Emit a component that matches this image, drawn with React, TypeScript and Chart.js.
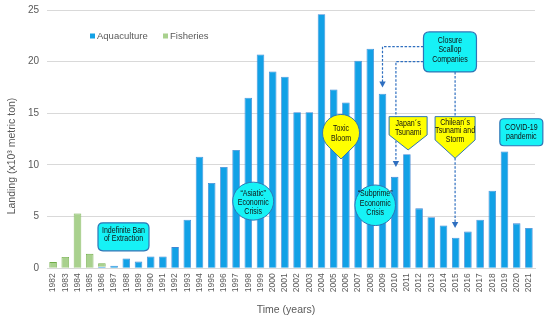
import React, { useEffect, useRef } from "react";
import { Chart, registerables } from "chart.js";

Chart.register(...registerables);

const years = [
  "1982", "1983", "1984", "1985", "1986", "1987", "1988", "1989", "1990", "1991",
  "1992", "1993", "1994", "1995", "1996", "1997", "1998", "1999", "2000", "2001",
  "2002", "2003", "2004", "2005", "2006", "2007", "2008", "2009", "2010", "2011",
  "2012", "2013", "2014", "2015", "2016", "2017", "2018", "2019", "2020", "2021",
];

const aquaculture = [
  0, 0, 0, 0, 0.15, 0.25, 0.95, 0.65, 1.15, 1.15,
  2.05, 4.7, 10.8, 8.25, 9.8, 11.45, 16.5, 20.7, 19.05, 18.55,
  15.1, 15.1, 24.6, 17.3, 16.05, 20.1, 21.25, 16.9, 8.85, 11.05,
  5.8, 4.95, 4.15, 2.95, 3.55, 4.7, 7.5, 11.3, 4.35, 3.9,
];

const fisheries = [
  0.6, 1.1, 5.3, 1.4, 0.35, 0, 0, 0, 0, 0,
  0, 0, 0, 0, 0, 0, 0, 0, 0, 0,
  0, 0, 0, 0, 0, 0, 0, 0, 0, 0,
  0, 0, 0, 0, 0, 0, 0, 0, 0, 0,
];

const yTicks = [0, 5, 10, 15, 20, 25];

const AQUA_FILL = "#12a1e6";
const AQUA_BORDER = "#3f86d4";
const FISH_FILL = "#a9d18e";
const FISH_BORDER = "#70ad47";
const CYAN = "#16f2f6";
const YELLOW = "#ffff00";
const SHAPE_BORDER = "#2e75b6";
const DASH = "#2f6fc0";
const ANN_FONT = '"Liberation Sans", Arial, sans-serif';
const AX_FONT = '"Liberation Sans", Arial, sans-serif';

function drawLines(ctx: CanvasRenderingContext2D, lines: string[], cx: number, cy: number, lh: number) {
  ctx.save();
  ctx.fillStyle = "#111111";
  ctx.font = `8.6px ${ANN_FONT}`;
  ctx.textAlign = "center";
  ctx.textBaseline = "middle";
  const sx = 0.82;
  ctx.translate(cx, cy);
  ctx.scale(sx, 1);
  const start = -((lines.length - 1) * lh) / 2;
  lines.forEach((l, k) => ctx.fillText(l, 0, start + k * lh));
  ctx.restore();
}

function roundRect(ctx: CanvasRenderingContext2D, cx: number, cy: number, w: number, h: number, r: number, fill: string) {
  const x = cx - w / 2, y = cy - h / 2;
  ctx.beginPath();
  ctx.moveTo(x + r, y);
  ctx.lineTo(x + w - r, y);
  ctx.quadraticCurveTo(x + w, y, x + w, y + r);
  ctx.lineTo(x + w, y + h - r);
  ctx.quadraticCurveTo(x + w, y + h, x + w - r, y + h);
  ctx.lineTo(x + r, y + h);
  ctx.quadraticCurveTo(x, y + h, x, y + h - r);
  ctx.lineTo(x, y + r);
  ctx.quadraticCurveTo(x, y, x + r, y);
  ctx.closePath();
  ctx.fillStyle = fill;
  ctx.fill();
  ctx.lineWidth = 1.2;
  ctx.strokeStyle = SHAPE_BORDER;
  ctx.stroke();
}

function arrowDown(ctx: CanvasRenderingContext2D, x: number, tipY: number) {
  ctx.beginPath();
  ctx.moveTo(x, tipY);
  ctx.lineTo(x - 3.2, tipY - 6);
  ctx.lineTo(x + 3.2, tipY - 6);
  ctx.closePath();
  ctx.fillStyle = DASH;
  ctx.fill();
}

const annotationPlugin = {
  id: "annots",
  afterDatasetsDraw(chart: any) {
    const ctx: CanvasRenderingContext2D = chart.ctx;
    const xs = chart.scales.x;
    const ys = chart.scales.y;
    const X = (i: number) => xs.getPixelForValue(i);
    const Y = (v: number) => ys.getPixelForValue(v);
    ctx.save();

    const cbx = X(32.53), cby = Y(20.94), cbw = 53, cbh = 40;

    ctx.save();
    ctx.strokeStyle = DASH;
    ctx.lineWidth = 1.2;
    ctx.setLineDash([2.5, 1.6]);
    const l1y = Y(21.45);
    ctx.beginPath();
    ctx.moveTo(cbx - cbw / 2, l1y);
    ctx.lineTo(X(27), l1y);
    ctx.lineTo(X(27), Y(17.5) - 5);
    ctx.stroke();
    const l2y = Y(20.0);
    ctx.beginPath();
    ctx.moveTo(cbx - cbw / 2, l2y);
    ctx.lineTo(X(28.1), l2y);
    ctx.lineTo(X(28.1), Y(9.8) - 5);
    ctx.stroke();
    ctx.beginPath();
    ctx.moveTo(X(32.95), cby + cbh / 2);
    ctx.lineTo(X(32.95), Y(3.9) - 5);
    ctx.stroke();
    ctx.restore();
    arrowDown(ctx, X(27), Y(17.5));
    arrowDown(ctx, X(28.1), Y(9.8));
    arrowDown(ctx, X(32.95), Y(3.9));

    roundRect(ctx, X(5.77), Y(3.05), 51, 28, 5, CYAN);
    drawLines(ctx, ["Indefinite Ban", "of Extraction"], X(5.77), Y(3.05) - 2, 8.4);

    ctx.beginPath();
    ctx.ellipse(X(16.4), Y(6.5), 20.5, 19, 0, 0, Math.PI * 2);
    ctx.fillStyle = CYAN;
    ctx.fill();
    ctx.lineWidth = 1;
    ctx.strokeStyle = SHAPE_BORDER;
    ctx.stroke();
    drawLines(ctx, ["\u201CAsiatic\u201D", "Economic", "Crisis"], X(16.4), Y(6.5) + 1.4, 9.2);

    ctx.beginPath();
    ctx.ellipse(X(26.4), Y(6.1), 20.3, 20.3, 0, 0, Math.PI * 2);
    ctx.fillStyle = CYAN;
    ctx.fill();
    ctx.stroke();
    drawLines(ctx, ["\u201CSubprime\u201D", "Economic", "Crisis"], X(26.4), Y(6.1) - 2, 9.2);

    {
      const cx = X(23.6), cy = Y(13.1), r = 18.5, d = 26;
      const a = Math.acos(r / d);
      const down = Math.PI / 2;
      ctx.beginPath();
      ctx.moveTo(cx, cy + d);
      ctx.arc(cx, cy, r, down + a, down - a + Math.PI * 2, false);
      ctx.closePath();
      ctx.fillStyle = YELLOW;
      ctx.fill();
      ctx.lineWidth = 1;
      ctx.strokeStyle = SHAPE_BORDER;
      ctx.stroke();
      drawLines(ctx, ["Toxic", "Bloom"], cx, cy + 0.6, 9.3);
    }

    const pentagon = (i: number, topV: number, w: number, shoulder: number, tip: number, lines: string[], lh: number, dy: number) => {
      const cx = X(i), ty = Y(topV);
      ctx.beginPath();
      ctx.moveTo(cx - w / 2, ty);
      ctx.lineTo(cx + w / 2, ty);
      ctx.lineTo(cx + w / 2, ty + shoulder);
      ctx.lineTo(cx, ty + tip);
      ctx.lineTo(cx - w / 2, ty + shoulder);
      ctx.closePath();
      ctx.fillStyle = YELLOW;
      ctx.fill();
      ctx.lineWidth = 1;
      ctx.strokeStyle = SHAPE_BORDER;
      ctx.stroke();
      drawLines(ctx, lines, cx, ty + dy, lh);
    };
    pentagon(29.1, 14.68, 38, 18.3, 33.3, ["Japan\u00B4s", "Tsunami"], 9.3, 11.3);
    pentagon(32.95, 14.68, 40, 23.3, 41.6, ["Chilean\u00B4s", "Tsunami and", "Storm"], 8.5, 14.1);

    roundRect(ctx, cbx, cby, cbw, cbh, 6, CYAN);
    drawLines(ctx, ["Closure", "Scallop", "Companies"], cbx, cby - 2, 9.2);

    roundRect(ctx, X(38.38), Y(13.17), 43, 27, 4, CYAN);
    drawLines(ctx, ["COVID-19", "pandemic"], X(38.38), Y(13.17), 8.4);

    ctx.restore();
  },
  afterDraw(chart: any) {
    const ctx: CanvasRenderingContext2D = chart.ctx;
    const area = chart.chartArea;
    ctx.save();
    ctx.font = `9.5px ${AX_FONT}`;
    ctx.textBaseline = "middle";
    ctx.textAlign = "left";
    const ly = area.top + 26;
    ctx.fillStyle = AQUA_FILL;
    ctx.fillRect(90, ly - 2.5, 5, 5);
    ctx.fillStyle = "#595959";
    ctx.fillText("Aquaculture", 97, ly);
    ctx.fillStyle = FISH_FILL;
    ctx.fillRect(163, ly - 2.5, 5, 5);
    ctx.fillStyle = "#595959";
    ctx.fillText("Fisheries", 170, ly);

    ctx.font = `10.5px ${AX_FONT}`;
    ctx.textAlign = "center";
    ctx.fillText("Time (years)", 286, 310);
    ctx.translate(12, 156);
    ctx.rotate(-Math.PI / 2);
    ctx.fillText("Landing (x10\u00B3 metric ton)", 0, 0);
    ctx.restore();
  },
};

export default function App() {
  const ref = useRef<HTMLCanvasElement | null>(null);
  useEffect(() => {
    if (!ref.current) return;
    const chart = new Chart(ref.current, {
      type: "bar",
      data: {
        labels: years,
        datasets: [
          {
            label: "Aquaculture",
            data: aquaculture,
            backgroundColor: AQUA_FILL,
            borderColor: AQUA_BORDER,
            borderWidth: 0.8,
            categoryPercentage: 0.62,
            barPercentage: 1,
          },
          {
            label: "Fisheries",
            data: fisheries,
            backgroundColor: FISH_FILL,
            borderColor: FISH_BORDER,
            borderWidth: 0.8,
            categoryPercentage: 0.62,
            barPercentage: 1,
          },
        ],
      },
      options: {
        animation: false,
        responsive: false,
        devicePixelRatio: 1,
        layout: { padding: { top: 10, right: 15, left: 0, bottom: 0 } },
        plugins: { legend: { display: false }, tooltip: { enabled: false } },
        scales: {
          x: {
            stacked: true,
            grid: { display: false, drawTicks: false },
            border: { display: true, color: "#d9d9d9" },
            ticks: {
              color: "#595959",
              font: { size: 8.5, family: AX_FONT },
              minRotation: 90,
              maxRotation: 90,
              autoSkip: false,
              padding: 5,
            },
            afterFit: (s: any) => {
              s.height = 54.7;
              s.paddingLeft = 0;
              s.paddingRight = 0;
            },
          },
          y: {
            stacked: true,
            min: 0,
            max: 25,
            afterBuildTicks: (s: any) => {
              s.ticks = yTicks.map((v) => ({ value: v }));
            },
            grid: { color: "#d9d9d9", drawTicks: false },
            border: { display: false },
            ticks: {
              color: "#595959",
              font: { size: 10, family: AX_FONT },
              padding: 8,
            },
            afterFit: (s: any) => {
              s.width = 47;
              s.paddingTop = 0;
              s.paddingBottom = 0;
            },
          },
        },
      },
      plugins: [annotationPlugin],
    });
    return () => chart.destroy();
  }, []);
  return (
    <div style={{ position: "absolute", left: 0, top: 0, width: 550, height: 323, background: "#fff" }}>
      <canvas ref={ref} width={550} height={323} />
    </div>
  );
}
